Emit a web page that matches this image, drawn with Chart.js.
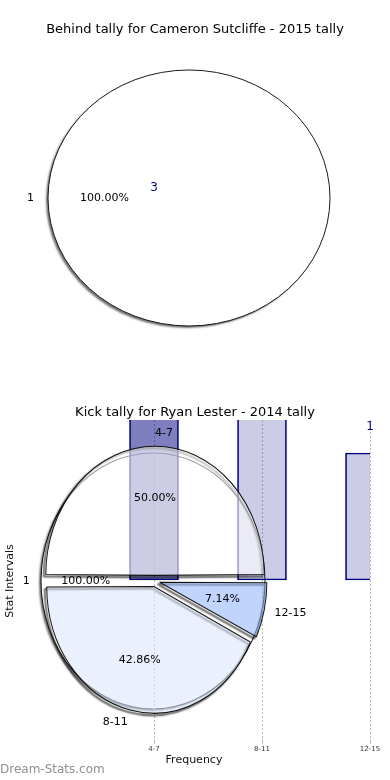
<!DOCTYPE html>
<html><head><meta charset="utf-8">
<script src="https://cdn.jsdelivr.net/npm/chart.js@4/dist/chart.umd.min.js"></script>
<style>
html,body{margin:0;padding:0;background:#fff;}
#wrap{position:relative;width:390px;height:780px;overflow:hidden;background:#fff;}
canvas{position:absolute;left:0;top:0;}
</style></head><body>
<div id="wrap">
<canvas id="behind" width="390" height="780"></canvas>
<canvas id="intervals" width="390" height="780"></canvas>
<canvas id="kickBars" width="390" height="780"></canvas>
<canvas id="kickPie" width="390" height="780"></canvas>
</div>
<script>
// ---- data ----
const behindTitle = 'Behind tally for Cameron Sutcliffe - 2015 tally';
const behindLabels = ['1'];
const behindValues = [3];
const behindValueLabel = '3';

const kickTitle = 'Kick tally for Ryan Lester - 2014 tally';
const kickCategories = ['4-7', '8-11', '12-15'];
const kickValues = [7, 6, 1];

const intervalLabels = ['1'];
const intervalValues = [14];

const xAxisTitle = 'Frequency';
const yAxisTitle = 'Stat Intervals';
const watermark = 'Dream-Stats.com';

// ---- helpers ----
const FAM = '"DejaVu Sans", Verdana, sans-serif';
const TAU = Math.PI * 2;
const pct = (v, arr) => (v / arr.reduce((a, b) => a + b, 0) * 100).toFixed(2) + '%';

function geoFactors(chart, geo) {
  const a0 = chart.getDatasetMeta(0).data[0];
  const R = a0.outerRadius;
  return { a0, R, kx: (geo.mirror ? -1 : 1) * geo.rx / R, ky: geo.ry / R };
}

function ellipsePlugin(geo, labels, values, extra) {
  return {
    id: 'ellipse_' + geo.name,
    beforeDatasetsDraw(chart) {
      const ctx = chart.ctx;
      const { a0, kx, ky } = geoFactors(chart, geo);
      if (geo.shadow === 'stroke') {
        // shadow only: draw the borders far off-canvas and bring back only their shadow
        const SH = 10000;
        ctx.save();
        ctx.translate(geo.cx - SH, geo.cy);
        ctx.scale(kx, ky);
        ctx.translate(-a0.x, -a0.y);
        ctx.shadowColor = 'rgba(0,0,0,0.6)';
        ctx.shadowOffsetX = SH - 2;
        ctx.shadowOffsetY = 2;
        ctx.shadowBlur = 1.5;
        chart.getDatasetMeta(0).data.forEach(arc => {
          const g = Object.create(arc);
          g.options = Object.assign({}, arc.options, { backgroundColor: 'rgba(0,0,0,0)', borderColor: '#000', borderWidth: 2 });
          g.draw(ctx);
        });
        ctx.restore();
      }
      ctx.save();
      ctx.translate(geo.cx, geo.cy);
      ctx.scale(kx, ky);
      ctx.translate(-a0.x, -a0.y);
      if (geo.shadow === 'fill') {
        ctx.shadowColor = 'rgba(0,0,0,0.55)';
        ctx.shadowOffsetX = -2;
        ctx.shadowOffsetY = 2;
        ctx.shadowBlur = 2;
      }
    },
    afterDatasetsDraw(chart) {
      const ctx = chart.ctx;
      ctx.shadowColor = 'rgba(0,0,0,0)';
      if (geo.outline) {
        const a0 = chart.getDatasetMeta(0).data[0];
        const { kx } = geoFactors(chart, geo);
        ctx.beginPath();
        ctx.arc(a0.x, a0.y, a0.outerRadius, 0, TAU);
        ctx.lineWidth = 1 / Math.abs(kx);
        ctx.strokeStyle = '#111';
        ctx.stroke();
      }
      ctx.restore();
    },
    afterDraw(chart) {
      const ctx = chart.ctx;
      const meta = chart.getDatasetMeta(0);
      const { R, kx, ky } = geoFactors(chart, geo);
      ctx.save();
      ctx.fillStyle = '#000';
      ctx.textBaseline = 'middle';
      meta.data.forEach((arc, i) => {
        const mid = (arc.startAngle + arc.endAngle) / 2;
        const off = (arc.options.offset || 0) / 4;
        const fix = 1 - Math.sin(Math.min(Math.PI, arc.circumference));
        const Rd = R + off * fix;
        const at = f => {
          const d = off + f * Rd;
          return { x: geo.cx + kx * Math.cos(mid) * d, y: geo.cy + ky * Math.sin(mid) * d, dx: kx * Math.cos(mid) };
        };
        const pin = at(0.6);
        ctx.font = '11px ' + FAM;
        ctx.textAlign = 'center';
        ctx.fillText(pct(values[i], values), pin.x, pin.y);
        const pout = at(1.1);
        ctx.textAlign = pout.dx < -1e-6 ? 'right' : 'left';
        ctx.fillText(labels[i], pout.x, pout.y);
      });
      if (extra) extra(chart, ctx);
      ctx.restore();
    }
  };
}

function pieChart(id, labels, values, colors, geo, opts, extra) {
  return new Chart(document.getElementById(id), {
    type: 'pie',
    data: { labels, datasets: [{
      data: values, backgroundColor: colors,
      borderColor: '#111', borderWidth: opts.borderWidth, offset: opts.offset || 0, clip: false
    }] },
    options: {
      responsive: false, animation: false, events: [], devicePixelRatio: 1,
      rotation: opts.rotation,
      layout: { padding: { left: 75, right: 75, top: 270, bottom: 270 } },
      plugins: { legend: { display: false }, tooltip: { enabled: false }, title: { display: false } }
    },
    plugins: [ellipsePlugin(geo, labels, values, extra)]
  });
}

// ---- top: behind tally pie ----
pieChart('behind', behindLabels, behindValues, ['#ffffff'],
  { name: 'behind', cx: 189, cy: 198, rx: 141, ry: 128, mirror: false, shadow: 'fill', outline: true },
  { borderWidth: 0, rotation: 90 },
  (chart, ctx) => {
    ctx.font = '13px ' + FAM;
    ctx.textAlign = 'center';
    ctx.fillStyle = '#000';
    ctx.fillText(behindTitle, 195, 30);
    ctx.font = '12px ' + FAM;
    ctx.fillStyle = '#000080';
    ctx.fillText(behindValueLabel, 154, 188);
  });

// ---- bottom: background interval pie ----
pieChart('intervals', intervalLabels, intervalValues, ['#ffffff'],
  { name: 'intervals', cx: 153, cy: 581, rx: 112, ry: 128, mirror: false, shadow: 'fill', outline: true },
  { borderWidth: 0, rotation: 90 });

// ---- bottom: kick bars ----
const barDecor = {
  id: 'barDecor',
  afterDraw(chart) {
    const ctx = chart.ctx;
    const area = chart.chartArea;
    const xs = chart.scales.x;
    ctx.save();
    ctx.textBaseline = 'middle';
    ctx.textAlign = 'center';
    ctx.fillStyle = '#000';
    ctx.font = '13px ' + FAM;
    ctx.fillText(kickTitle, 195, 413);
    // value label of the last bar, at the top of the plot
    const last = kickValues.length - 1;
    ctx.font = '12px ' + FAM;
    ctx.fillStyle = '#000080';
    ctx.fillText(String(kickValues[last]), xs.getPixelForValue(last), area.top + 7);
    // x axis title
    ctx.fillStyle = '#111';
    ctx.font = '11px ' + FAM;
    ctx.fillText(xAxisTitle, 194, 760);
    // y axis title
    ctx.translate(10, (area.top + area.bottom) / 2 + 1);
    ctx.rotate(-Math.PI / 2);
    ctx.fillText(yAxisTitle, 0, 0);
    ctx.setTransform(1, 0, 0, 1, 0, 0);
    ctx.textAlign = 'left';
    ctx.fillStyle = '#909090';
    ctx.font = '12px ' + FAM;
    ctx.fillText(watermark, 0, 770);
    ctx.restore();
  }
};

new Chart(document.getElementById('kickBars'), {
  type: 'bar',
  data: { labels: kickCategories, datasets: [{
    data: kickValues,
    backgroundColor: ['rgba(0,0,128,0.5)', 'rgba(0,0,128,0.2)', 'rgba(0,0,128,0.2)'],
    borderColor: '#000080', borderWidth: 1, borderSkipped: false,
    barThickness: 49,
    clip: { left: false, top: 0, right: 0, bottom: 0 }
  }] },
  options: {
    responsive: false, animation: false, events: [], devicePixelRatio: 1,
    layout: { padding: { left: 154, right: 20, top: 420, bottom: 0 } },
    plugins: { legend: { display: false }, tooltip: { enabled: false }, title: { display: false } },
    scales: {
      x: {
        offset: false,
        grid: { color: '#b8b8b8', lineWidth: 1, tickLength: 4, offset: false },
        border: { display: false, dash: [2, 2] },
        ticks: { font: { family: FAM, size: 7 }, color: '#333', maxRotation: 0, autoSkip: false, padding: 1 },
        title: { display: false },
        afterFit: s => { s.height = 40; }
      },
      y: { display: false, min: -1.26, max: 1.26 }
    }
  },
  plugins: [barDecor]
});

// ---- bottom: kick distribution pie (overlay) ----
pieChart('kickPie', kickCategories, kickValues,
  ['rgba(255,255,255,0.6)', 'rgba(220,230,250,0.6)', 'rgba(150,183,250,0.6)'],
  { name: 'kick', cx: 155, cy: 581, rx: 104.5, ry: 123.5, mirror: true, shadow: 'stroke', outline: false },
  { borderWidth: 1, rotation: 270, offset: 20 });
</script>
</body></html>
